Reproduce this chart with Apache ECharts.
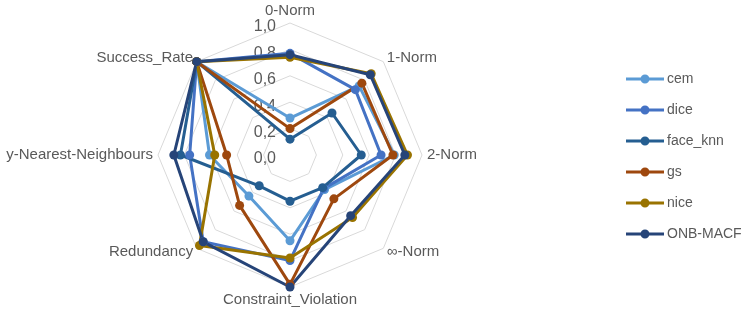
<!DOCTYPE html>
<html>
<head>
<meta charset="utf-8">
<script src="https://cdn.jsdelivr.net/npm/echarts@6/dist/echarts.min.js"></script>
<style>
html,body{margin:0;padding:0;background:#fff;}
#chart{width:748px;height:317px;}
</style>
</head>
<body>
<div id="chart"></div>
<script>
// Axis categories (clockwise from top, as in the reference)
const categories = ['0-Norm', '1-Norm', '2-Norm', '∞-Norm', 'Constraint_Violation', 'Redundancy', 'y-Nearest-Neighbours', 'Success_Rate'];
const seriesNames = ['cem', 'dice', 'face_knn', 'gs', 'nice', 'ONB-MACF'];
const cem      = [0.28, 0.74, 0.79, 0.37, 0.65, 0.44, 0.61, 1.0];
const dice     = [0.77, 0.70, 0.69, 0.36, 0.80, 0.93, 0.76, 1.0];
const face_knn = [0.12, 0.45, 0.54, 0.35, 0.35, 0.33, 0.83, 1.0];
const gs       = [0.20, 0.77, 0.78, 0.47, 0.98, 0.54, 0.48, 1.0];
const nice     = [0.74, 0.87, 0.89, 0.67, 0.78, 0.97, 0.57, 1.0];
const onb      = [0.76, 0.86, 0.87, 0.65, 1.00, 0.93, 0.88, 1.0];
const tickLabels = ['0,0', '0,2', '0,4', '0,6', '0,8', '1,0'];

const colors = ['#5B9BD5', '#4472C4', '#255E91', '#9E480E', '#997300', '#264478'];
const allValues = [cem, dice, face_knn, gs, nice, onb];

// ECharts radar runs counter-clockwise; reorder so it reads clockwise
const order = [0, 7, 6, 5, 4, 3, 2, 1];

const indicator = order.map((i, k) => {
  const ind = { name: categories[i], min: 0, max: 1 };
  if (k === 0) {
    ind.axisLabel = {
      show: true,
      verticalAlign: 'top',
      lineHeight: 8,
      formatter: function (v) { return tickLabels[Math.round(v * 5)]; }
    };
  }
  return ind;
});

const legendIcon = 'path://M0,3L38,3L38,6L0,6Z M14.5,4.5A4.5,4.5 0 1 1 23.5,4.5A4.5,4.5 0 1 1 14.5,4.5Z';

const chart = echarts.init(document.getElementById('chart'), null, { renderer: 'canvas' });
chart.setOption({
  animation: false,
  color: colors,
  textStyle: { fontFamily: 'Liberation Sans, Arial, sans-serif' },
  legend: {
    orient: 'vertical',
    left: 626,
    top: 72,
    padding: 0,
    itemWidth: 38,
    itemHeight: 9,
    itemGap: 17,
    icon: legendIcon,
    textStyle: { color: '#595959', fontSize: 14, padding: [0, 0, 0, -2] },
    data: seriesNames
  },
  radar: {
    center: [290, 155],
    radius: 132,
    startAngle: 90,
    splitNumber: 5,
    shape: 'polygon',
    nameGap: 5,
    axisName: { color: '#595959', fontSize: 15 },
    axisLine: { show: false },
    axisTick: { show: false },
    axisLabel: { show: false, color: '#595959', fontSize: 16, margin: 14 },
    splitLine: { lineStyle: { color: '#D9D9D9', width: 1 } },
    splitArea: { show: false },
    indicator: indicator
  },
  series: [{
    type: 'radar',
    symbol: 'circle',
    symbolSize: 9,
    lineStyle: { width: 3 },
    data: seriesNames.map((n, s) => ({
      name: n,
      value: order.map(i => allValues[s][i]),
      lineStyle: { color: colors[s], width: 3 },
      itemStyle: { color: colors[s] }
    }))
  }]
});
</script>
</body>
</html>
